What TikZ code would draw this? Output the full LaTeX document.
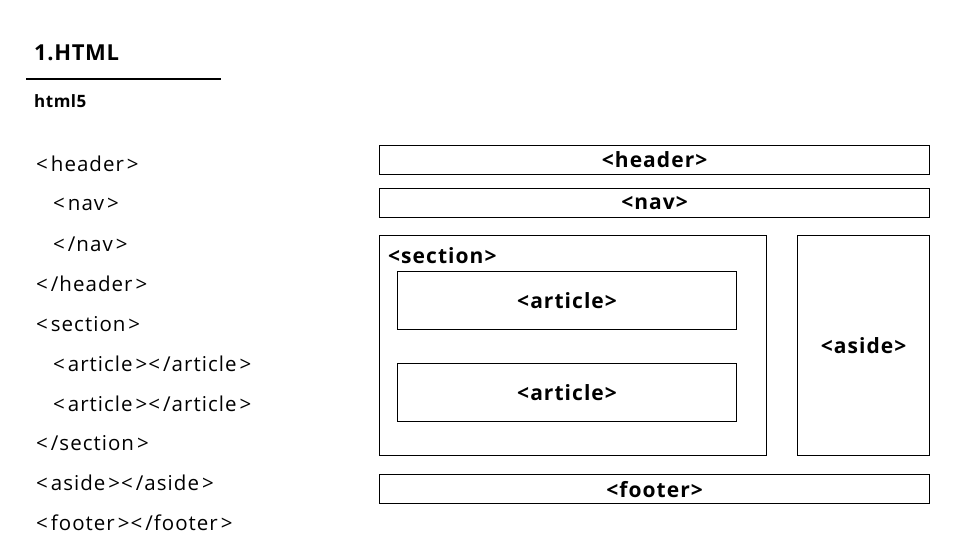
\documentclass[tikz,border=0pt]{standalone}
\usepackage{fontspec}
\setmainfont{Open Sans}
\begin{document}
\begin{tikzpicture}[x=1pt,y=-1pt,
  box/.style={draw,line width=1.2pt,anchor=north west,inner sep=0pt},
  lbl/.style={font=\fontsize{21}{21}\selectfont\bfseries\addfontfeatures{LetterSpace=5},inner sep=0pt},
  code/.style={font=\fontsize{20.5}{20}\selectfont\addfontfeatures{LetterSpace=5},anchor=west,inner sep=0pt}]
\useasboundingbox (0,0) rectangle (960,540);
\newcommand{\lt}{<\hspace{3pt}}
\newcommand{\gt}{\hspace{3pt}>}
% title
\node[anchor=west,inner sep=0pt,font=\fontsize{22}{22}\selectfont\bfseries\addfontfeatures{LetterSpace=3}] (title) at (34,53) {1.HTML};
\coordinate (la) at (26,79);
\coordinate (lb) at (221,79);
\draw[line width=1.5pt] (la) -- (lb);
\node[anchor=west,inner sep=0pt,font=\fontsize{17}{17}\selectfont\bfseries\addfontfeatures{LetterSpace=3}] (sub) at (34,101) {html5};
% code
\node[code] (c1) at (36,164) {\lt header\gt};
\node[code] (c2) at (53,204) {\lt nav\gt};
\node[code] (c3) at (53,244) {\lt/nav\gt};
\node[code] (c4) at (36,284) {\lt/header\gt};
\node[code] (c5) at (36,324) {\lt section\gt};
\node[code] (c6) at (53,364) {\lt article\gt\lt/article\gt};
\node[code] (c7) at (53,404) {\lt article\gt\lt/article\gt};
\node[code] (c8) at (36,443) {\lt/section\gt};
\node[code] (c9) at (36,483) {\lt aside\gt\lt/aside\gt};
\node[code] (c10) at (36,523) {\lt footer\gt\lt/footer\gt};
% boxes
\node[box,minimum width=550pt,minimum height=29pt] (hd) at (379,145) {};
\node[lbl] (hdl) at (hd.center) {<header>};
\node[box,minimum width=550pt,minimum height=29pt] (nv) at (379,188) {};
\node[lbl] (nvl) at (nv.center) {<nav>};
\node[box,minimum width=387pt,minimum height=220pt] (sec) at (379,235) {};
\node[lbl,anchor=west] (secl) at (388,256) {<section>};
\node[box,minimum width=339pt,minimum height=58pt] (a1) at (397,271) {};
\node[lbl] (a1l) at (a1.center) {<article>};
\node[box,minimum width=339pt,minimum height=58pt] (a2) at (397,363) {};
\node[lbl] (a2l) at (a2.center) {<article>};
\node[box,minimum width=132pt,minimum height=220pt] (as) at (797,235) {};
\node[lbl] (asl) at (as.center) {<aside>};
\node[box,minimum width=550pt,minimum height=29pt] (ft) at (379,474) {};
\node[lbl] (ftl) at (ft.center) {<footer>};
\end{tikzpicture}
\end{document}
